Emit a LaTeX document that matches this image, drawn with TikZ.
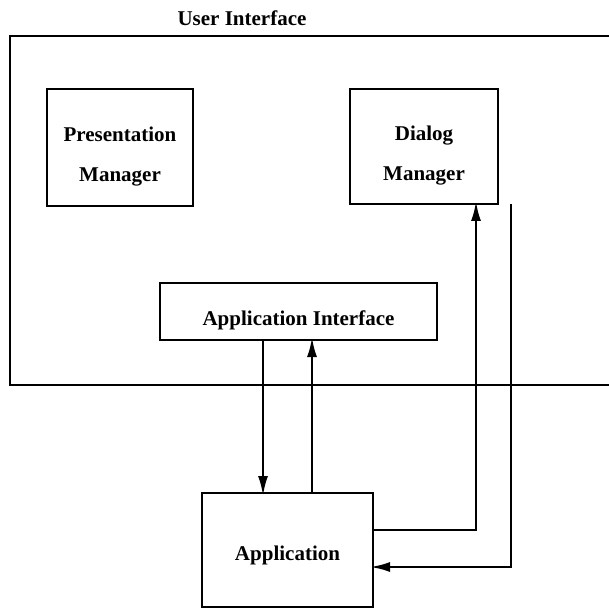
\documentclass[tikz,border=0pt]{standalone}
\usepackage{fontspec}
\setmainfont{Liberation Serif}
\usetikzlibrary{arrows.meta}
\begin{document}
\begin{tikzpicture}[x=0.5pt,y=-0.5pt,
  box/.style={draw,line width=1.4pt,inner sep=0pt,outer sep=0pt,align=center,
    font=\bfseries\fontsize{10.5}{20}\selectfont},
  conn/.style={line width=1.3pt},
  arr/.style={conn,-{Latex[length=10pt,width=5pt]},shorten >=-1.5pt},
  lbl/.style={font=\bfseries\fontsize{10.5}{12}\selectfont}]
\useasboundingbox (0,0) rectangle (608,608);
% outer user interface frame (runs off the right edge)
\draw[conn] (614,36) -- (10,36) -- (10,385) -- (614,385);
\node[lbl] (ui) at (242,18) {User Interface};
\node[box,minimum width=73pt,minimum height=58.5pt,text height=36pt] (pm) at (120,147.5) {Presentation\\Manager};
\node[box,minimum width=74pt,minimum height=57.5pt,text height=36pt] (dm) at (424,146.5) {Dialog\\Manager};
\node[box,minimum width=138.5pt,minimum height=28.5pt,text height=16pt] (ai) at (298.5,311.5) {Application Interface};
\node[box,minimum width=85.5pt,minimum height=57pt,text height=13pt] (app) at (287.5,550) {Application};
\coordinate (c1) at (263,0);
\coordinate (c2) at (312,0);
\coordinate (c3) at (476,530);
\coordinate (c4) at (511,567);
\draw[arr] (ai.south -| c1) -- (app.north -| c1);
\draw[arr] (app.north -| c2) -- (ai.south -| c2);
\draw[arr] (app.east |- c3) -| (dm.south -| c3);
\draw[arr] (dm.south -| c4) |- (app.east |- c4);
\end{tikzpicture}
\end{document}
